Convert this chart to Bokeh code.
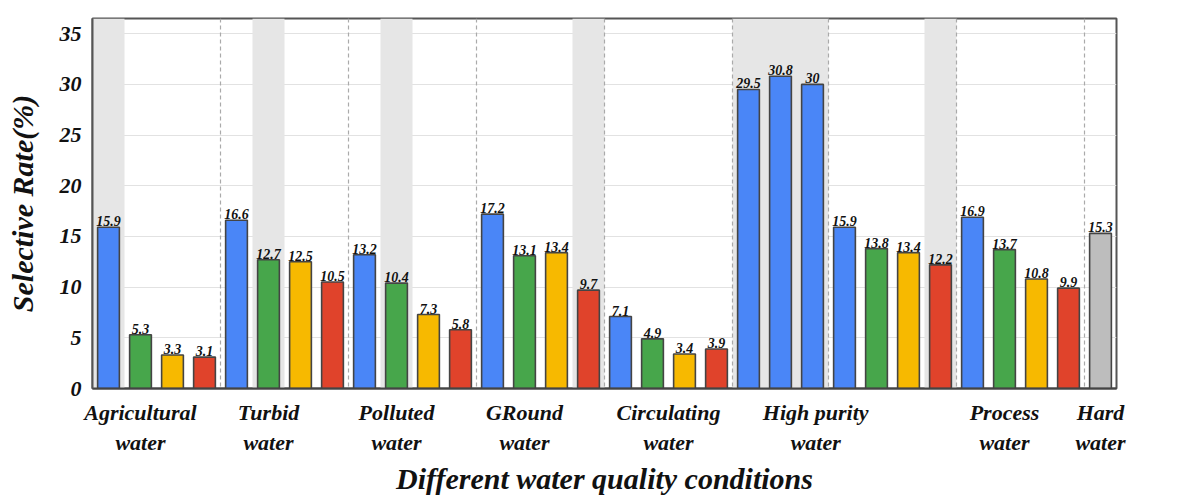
from bokeh.plotting import figure
from bokeh.models import FixedTicker, ColumnDataSource, Span, Range1d
from bokeh.core.properties import value
from bokeh.embed import file_html
from bokeh.resources import INLINE

values = [15.9, 5.3, 3.3, 3.1,
          16.6, 12.7, 12.5, 10.5,
          13.2, 10.4, 7.3, 5.8,
          17.2, 13.1, 13.4, 9.7,
          7.1, 4.9, 3.4, 3.9,
          29.5, 30.8, 30,
          15.9, 13.8, 13.4, 12.2,
          16.9, 13.7, 10.8, 9.9,
          15.3]
labels = ["15.9", "5.3", "3.3", "3.1", "16.6", "12.7", "12.5", "10.5",
          "13.2", "10.4", "7.3", "5.8", "17.2", "13.1", "13.4", "9.7",
          "7.1", "4.9", "3.4", "3.9", "29.5", "30.8", "30",
          "15.9", "13.8", "13.4", "12.2", "16.9", "13.7", "10.8", "9.9", "15.3"]
series = ["b", "g", "y", "r"] * 5 + ["b", "b", "b"] + ["b", "g", "y", "r"] * 2 + ["k"]
palette = {"b": "#4a86f7", "g": "#47a64b", "y": "#f7b900", "r": "#e0432b", "k": "#bdbdbd"}
categories = ["Agricultural\nwater", "Turbid\nwater", "Polluted\nwater", "GRound\nwater",
              "Circulating\nwater", "High purity\nwater", "Process\nwater", "Hard\nwater"]
cat_pos = [1.5, 5.5, 9.5, 13.5, 18.0, 22.6, 28.5, 31.5]
shade_left = [0, 5, 9, 15, 20, 26]
shade_right = [1, 6, 10, 16, 23, 27]
dividers = [4, 8, 12, 16, 20, 23, 27, 31]

FONT = "Liberation Serif"
x = [i + 0.5 for i in range(len(values))]
src = ColumnDataSource(dict(x=x, top=values, lab=labels,
                            color=[palette[s] for s in series]))

p = figure(width=1170, height=484, output_backend="svg", toolbar_location=None,
           x_range=Range1d(0, 32), y_range=Range1d(0, 36.5),
           frame_width=1024, frame_height=370,
           min_border_left=92, min_border_top=18, min_border_right=54)
p.outline_line_color = "#555555"
p.outline_line_width = 2
p.xgrid.visible = False
p.ygrid.grid_line_color = "#e2e2e2"

p.quad(left=shade_left, right=shade_right, top=36.5, bottom=0,
       fill_color="#e6e6e6", line_color=None)
for d in dividers:
    p.add_layout(Span(location=d, dimension="height", line_color="#aaaaaa",
                      line_dash="4 3", line_width=1.2))

p.vbar(x="x", top="top", width=0.68, source=src, fill_color="color",
       line_color="#444444", line_width=1.6)
p.text(x="x", y="top", text="lab", source=src, text_align="center",
       text_baseline="bottom", y_offset=-1, text_font=value(FONT),
       text_font_style="bold italic", text_font_size="14px", text_color="#111111")

p.yaxis.ticker = FixedTicker(ticks=[0, 5, 10, 15, 20, 25, 30, 35])
p.xaxis.ticker = FixedTicker(ticks=cat_pos)
p.xaxis.major_label_overrides = {k: v for k, v in zip(cat_pos, categories)}
for ax in (p.xaxis, p.yaxis):
    ax.major_label_text_font = FONT
    ax.major_label_text_font_style = "bold italic"
    ax.major_label_text_font_size = "22px"
    ax.major_label_text_color = "#111111"
    ax.major_tick_line_color = None
    ax.minor_tick_line_color = None
    ax.axis_label_text_font = FONT
    ax.axis_label_text_font_style = "bold italic"
    ax.axis_label_text_font_size = "30px"
    ax.axis_label_text_color = "#111111"
p.xaxis.axis_line_width = 2
p.xaxis.axis_line_color = "#444444"
p.yaxis.axis_line_color = "#555555"
p.yaxis.axis_line_width = 2
p.xaxis.axis_label = "Different water quality conditions"
p.yaxis.axis_label = "Selective Rate(%)"
p.xaxis.axis_label_standoff = 4
p.yaxis.axis_label_standoff = 18

open("out.html", "w").write(file_html(p, INLINE))
